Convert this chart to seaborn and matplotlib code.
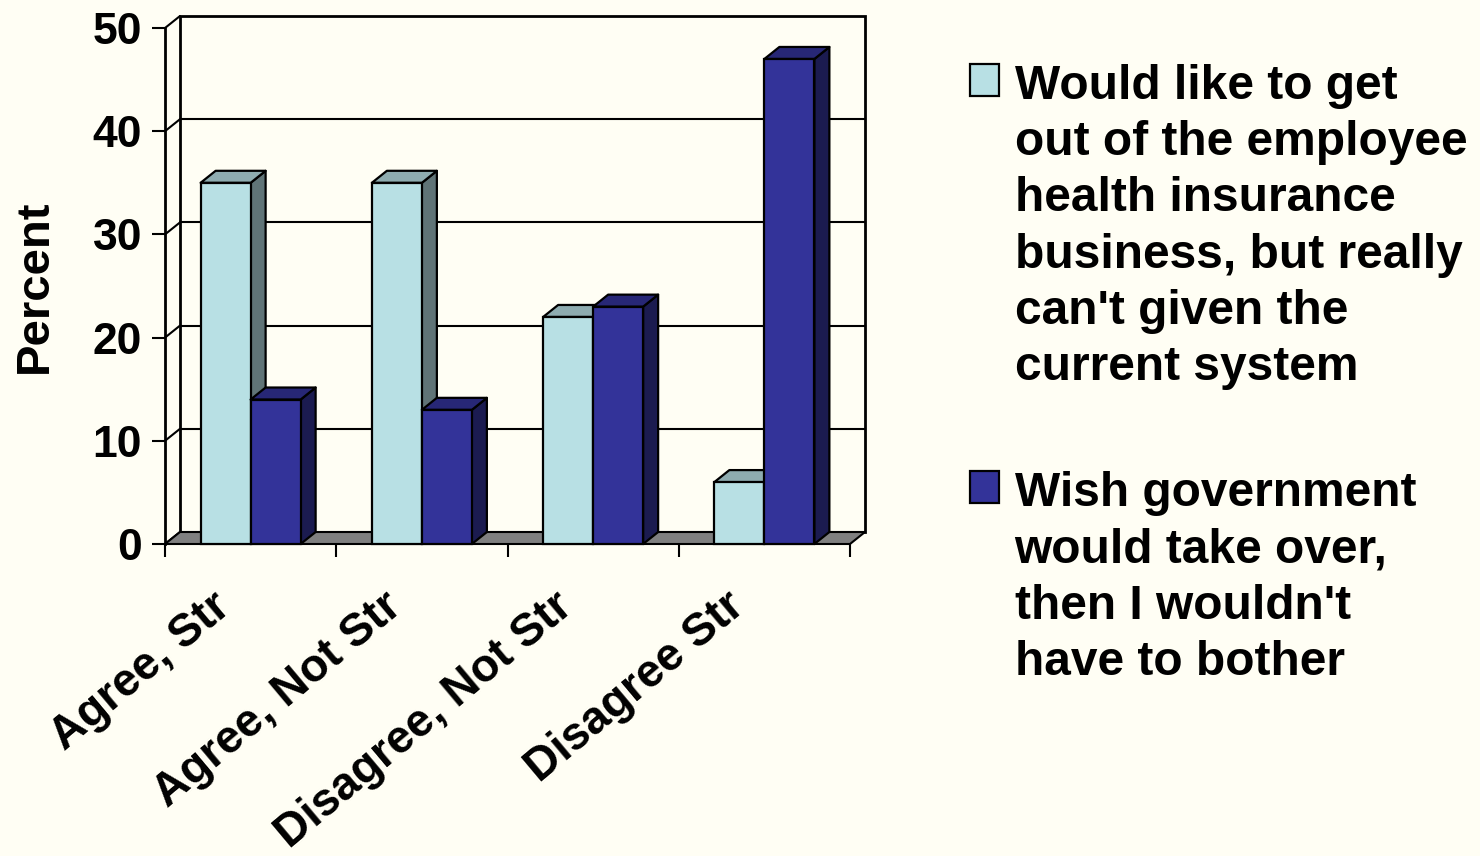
import matplotlib
matplotlib.use("Agg")
import matplotlib.pyplot as plt
import matplotlib.transforms as mtransforms
from matplotlib.patches import Polygon, Rectangle
import numpy as np
import pandas as pd
import seaborn as sns

# ---- data -------------------------------------------------------------
categories = ["Agree, Str", "Agree, Not Str", "Disagree, Not Str", "Disagree Str"]
series_names = [
    "Would like to get\nout of the employee\nhealth insurance\nbusiness, but really\ncan't given the\ncurrent system",
    "Wish government\nwould take over,\nthen I wouldn't\nhave to bother",
]
exit_values = [35, 35, 22, 6]
takeover_values = [14, 13, 23, 47]
y_ticks = [0, 10, 20, 30, 40, 50]

# ---- style ------------------------------------------------------------
BG = "#FFFEF4"
front_colors = ["#B8E0E4", "#333399"]
TOP_SHADE, SIDE_SHADE = 0.77, 0.52

sns.set_theme(style="white")
plt.rcParams["font.family"] = ["Liberation Sans", "DejaVu Sans"]
plt.rcParams["font.weight"] = "bold"
for key in ["text.color", "axes.labelcolor", "xtick.color", "ytick.color"]:
    plt.rcParams[key] = "black"

df = pd.DataFrame({
    "category": categories * 2,
    "series": [series_names[0]] * len(categories) + [series_names[1]] * len(categories),
    "percent": exit_values + takeover_values,
})

W, H, DPI = 1480, 856, 100
fig = plt.figure(figsize=(W / DPI, H / DPI), dpi=DPI, facecolor=BG)
# front plane of the 3-D box
ax_left, ax_right, ax_top, ax_bottom = 165, 850, 28, 544
ax = fig.add_axes([ax_left / W, 1 - ax_bottom / H,
                   (ax_right - ax_left) / W, (ax_bottom - ax_top) / H])
ax.set_facecolor("none")

sns.barplot(data=df, x="category", y="percent", hue="series",
            palette=front_colors, width=0.584, saturation=1,
            edgecolor="black", linewidth=1.6, ax=ax)

ax.set_xlim(-0.5, len(categories) - 0.5)
ax.set_ylim(0, 50)

# depth of the box, expressed in data units (15 px right, 12 px up)
px_per_cat = (ax_right - ax_left) / len(categories)
px_per_unit = (ax_bottom - ax_top) / 50
DX = 15 / px_per_cat
DY = 12 / px_per_unit
x0, x1 = -0.5, len(categories) - 0.5

# back wall and its gridlines
ax.add_patch(Rectangle((x0 + DX, DY), x1 - x0, 50, facecolor=BG,
                       edgecolor="black", lw=2, zorder=0.2, clip_on=False))
for v in y_ticks:
    if 0 < v < 50:
        ax.plot([x0 + DX, x1 + DX], [v + DY, v + DY], color="black",
                lw=1.5, zorder=0.3, clip_on=False)
    ax.plot([x0, x0 + DX], [v, v + DY], color="black", lw=1.5,
            zorder=0.3, clip_on=False)

# floor
ax.add_patch(Polygon([(x0, 0), (x1, 0), (x1 + DX, DY), (x0 + DX, DY)],
                     closed=True, facecolor="#808080", edgecolor="black",
                     lw=1.5, zorder=0.5, clip_on=False))


def shade(hex_color, f):
    r, g, b = matplotlib.colors.to_rgb(hex_color)
    return (r * f, g * f, b * f)


# extrude every bar with a top and a side face
n_cat = len(categories)
bars = [p for p in ax.patches if isinstance(p, Rectangle)][:2 * n_cat]
for k, patch in enumerate(bars):
    hue_idx = k // n_cat
    cat_idx = k % n_cat
    z = 2 + cat_idx * 10 + hue_idx * 3
    bx, bw, bh = patch.get_x(), patch.get_width(), patch.get_height()
    fc = front_colors[hue_idx]
    side = Polygon([(bx + bw, 0), (bx + bw + DX, DY), (bx + bw + DX, bh + DY), (bx + bw, bh)],
                   closed=True, facecolor=shade(fc, SIDE_SHADE), edgecolor="black",
                   lw=1.6, zorder=z, clip_on=False, joinstyle="round")
    top = Polygon([(bx, bh), (bx + bw, bh), (bx + bw + DX, bh + DY), (bx + DX, bh + DY)],
                  closed=True, facecolor=shade(fc, TOP_SHADE), edgecolor="black",
                  lw=1.6, zorder=z, clip_on=False, joinstyle="round")
    ax.add_patch(side)
    ax.add_patch(top)
    patch.set_zorder(z + 1)
    patch.set_clip_on(False)

# axes frame and ticks
for s in ["top", "right", "bottom"]:
    ax.spines[s].set_visible(False)
ax.spines["left"].set_color("black")
ax.spines["left"].set_linewidth(2)
ax.spines["left"].set_zorder(1)

ax.set_yticks(y_ticks)
ax.set_yticklabels([str(v) for v in y_ticks], fontsize=32, fontweight="bold")
ax.tick_params(axis="y", direction="out", length=9.5, width=1.5,
               color="black", labelcolor="black", pad=7, left=True)

ax.set_xticks(range(n_cat))
ax.set_xticklabels([])
ax.tick_params(axis="x", which="major", length=0)
ax.set_xticks(np.arange(-0.5, n_cat, 1.0), minor=True)
ax.tick_params(axis="x", which="minor", direction="out", length=9,
               width=1.5, color="black", bottom=True)
ax.set_xlabel("")
ax.set_ylabel("")

label_shift = mtransforms.ScaledTranslation(-40 / DPI, -40 / DPI, fig.dpi_scale_trans)
for i, name in enumerate(categories):
    ax.text(i, 0, name, transform=ax.get_xaxis_transform() + label_shift,
            rotation=40, rotation_mode="anchor", ha="right", va="top",
            fontsize=33, fontweight="bold", color="black")

fig.text(35 / W, 1 - 286 / H, "Percent", rotation=90, ha="center", va="center",
         fontsize=34, fontweight="bold", color="black")

sns.move_legend(ax, loc="upper left", bbox_to_anchor=(970 / W, 1 - 64 / H),
                bbox_transform=fig.transFigure, frameon=False, title="",
                fontsize=34.5, handlelength=0.6, handleheight=0.64,
                handletextpad=0.33, labelspacing=1.7, borderpad=0,
                borderaxespad=0)
leg = ax.get_legend()
for t in leg.get_texts():
    t.set_fontweight("bold")
    t.set_color("black")
    t.set_linespacing(1.32)
# put each swatch beside the first line of its entry
for column in leg._legend_handle_box.get_children():
    for item in column.get_children():
        item.align = "top"

fig.savefig("out.png", dpi=DPI, facecolor=BG)
